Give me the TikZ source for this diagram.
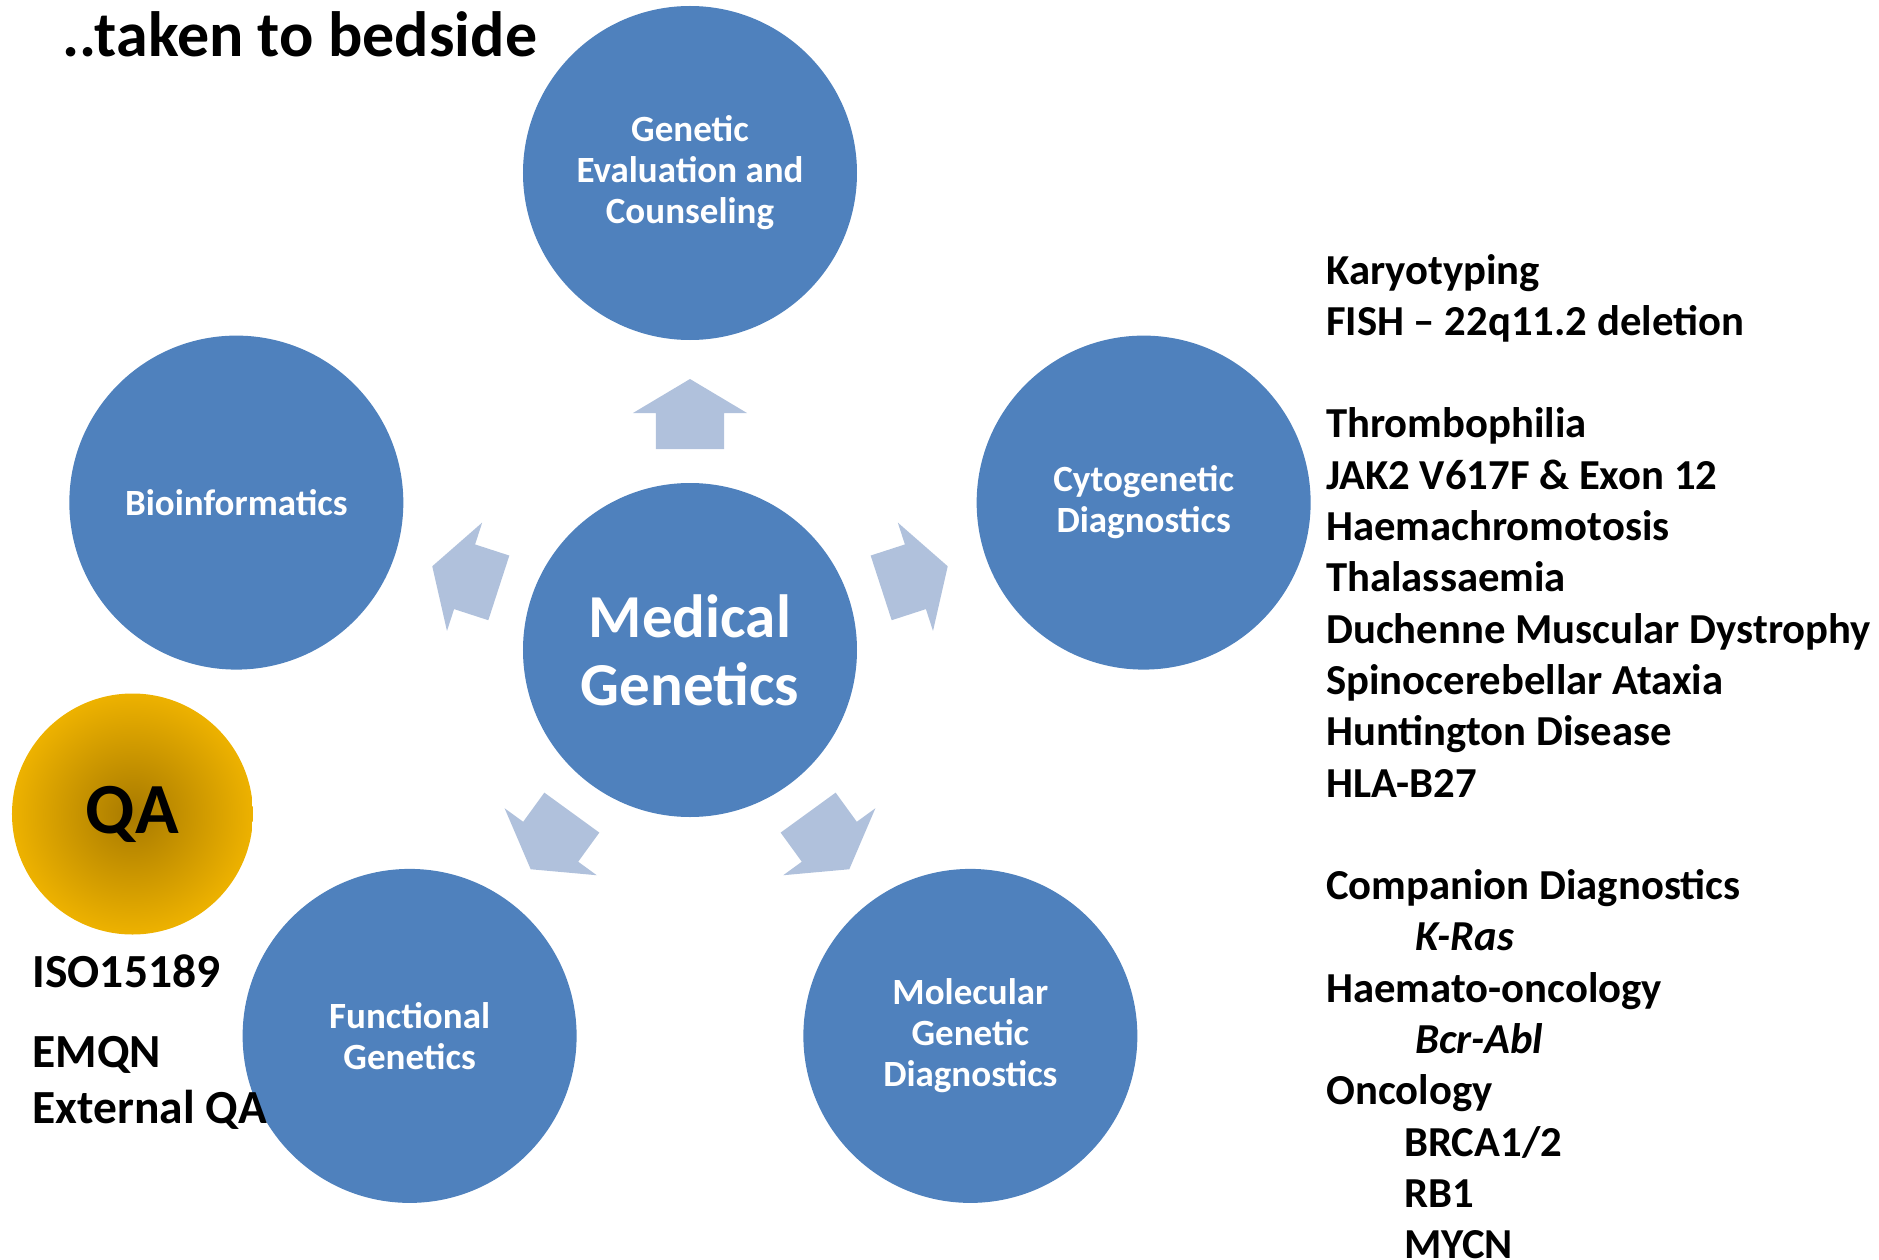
\documentclass[tikz,border=0pt]{standalone}
\usepackage{fontspec}
\setmainfont{Carlito}
\definecolor{mgblue}{HTML}{4F81BD}
\definecolor{mgarrow}{HTML}{B0C1DC}
\definecolor{qagold}{HTML}{F0B400}
\definecolor{qadark}{HTML}{A87A00}
\pgfdeclareradialshading{qaglow}{\pgfpointorigin}{color(0bp)=(qadark); color(26bp)=(qagold); color(50bp)=(qagold)}
\begin{document}
\begin{tikzpicture}[x=1pt, y=1pt,
  hub/.style={circle, fill=mgblue, minimum size=334pt, inner sep=0pt, text=white, align=center, font=\bfseries\fontsize{37}{41}\selectfont},
  listtext/.style={anchor=base west, inner sep=0pt, font=\bfseries\fontsize{42.7}{51}\selectfont}]

\useasboundingbox (-690,-609) rectangle (1189,650);

\node[hub, font=\bfseries\fontsize{61}{68}\selectfont] (mg) at (0,0) {Medical\\Genetics};
\node[hub] (gec) at (90:477) {Genetic\\Evaluation and\\Counseling};
\node[hub] (cyto) at (18:477) {Cytogenetic\\Diagnostics};
\node[hub] (mgd) at (-54:477) {Molecular\\Genetic\\Diagnostics};
\node[hub] (fg) at (234:477) {Functional\\Genetics};
\node[hub] (bio) at (162:477) {Bioinformatics};

\foreach \a in {90,18,-54,234,162}
  \fill[mgarrow, rotate=\a-90] (-34,201) -- (34,201) -- (34,237) -- (57,237) -- (0,271) -- (-57,237) -- (-34,237) -- cycle;

\node[circle, minimum size=241pt, inner sep=0pt, shading=qaglow, font=\bfseries\fontsize{72}{80}\selectfont] (qa) at (-557.5,-164) {QA};

\node[listtext, font=\bfseries\fontsize{64}{72}\selectfont] (title) at (-628,593) {..taken to bedside};

\node[listtext, font=\bfseries\fontsize{47.5}{56}\selectfont] (iso) at (-657.5,-337.7) {ISO15189};
\node[listtext, font=\bfseries\fontsize{47.5}{56}\selectfont] (emqn) at (-657.5,-417.2) {EMQN};
\node[listtext, font=\bfseries\fontsize{47.5}{56}\selectfont] (extqa) at (-657.5,-473.8) {External QA};

\foreach \t [count=\i from 0] in {Karyotyping, FISH -- 22q11.2 deletion, {}, Thrombophilia,
    JAK2 V617F \& Exon 12, Haemachromotosis, Thalassaemia, Duchenne Muscular Dystrophy,
    Spinocerebellar Ataxia, Huntington Disease, HLA-B27, {}, Companion Diagnostics,
    \hspace*{89pt}\textit{K-Ras}, Haemato-oncology, \hspace*{89pt}\textit{Bcr-Abl}, Oncology,
    \hspace*{78pt}BRCA1/2, \hspace*{78pt}RB1, \hspace*{78pt}MYCN}
  \node[listtext] (item\i) at (636,366-51.3*\i) {\t};

\end{tikzpicture}
\end{document}
